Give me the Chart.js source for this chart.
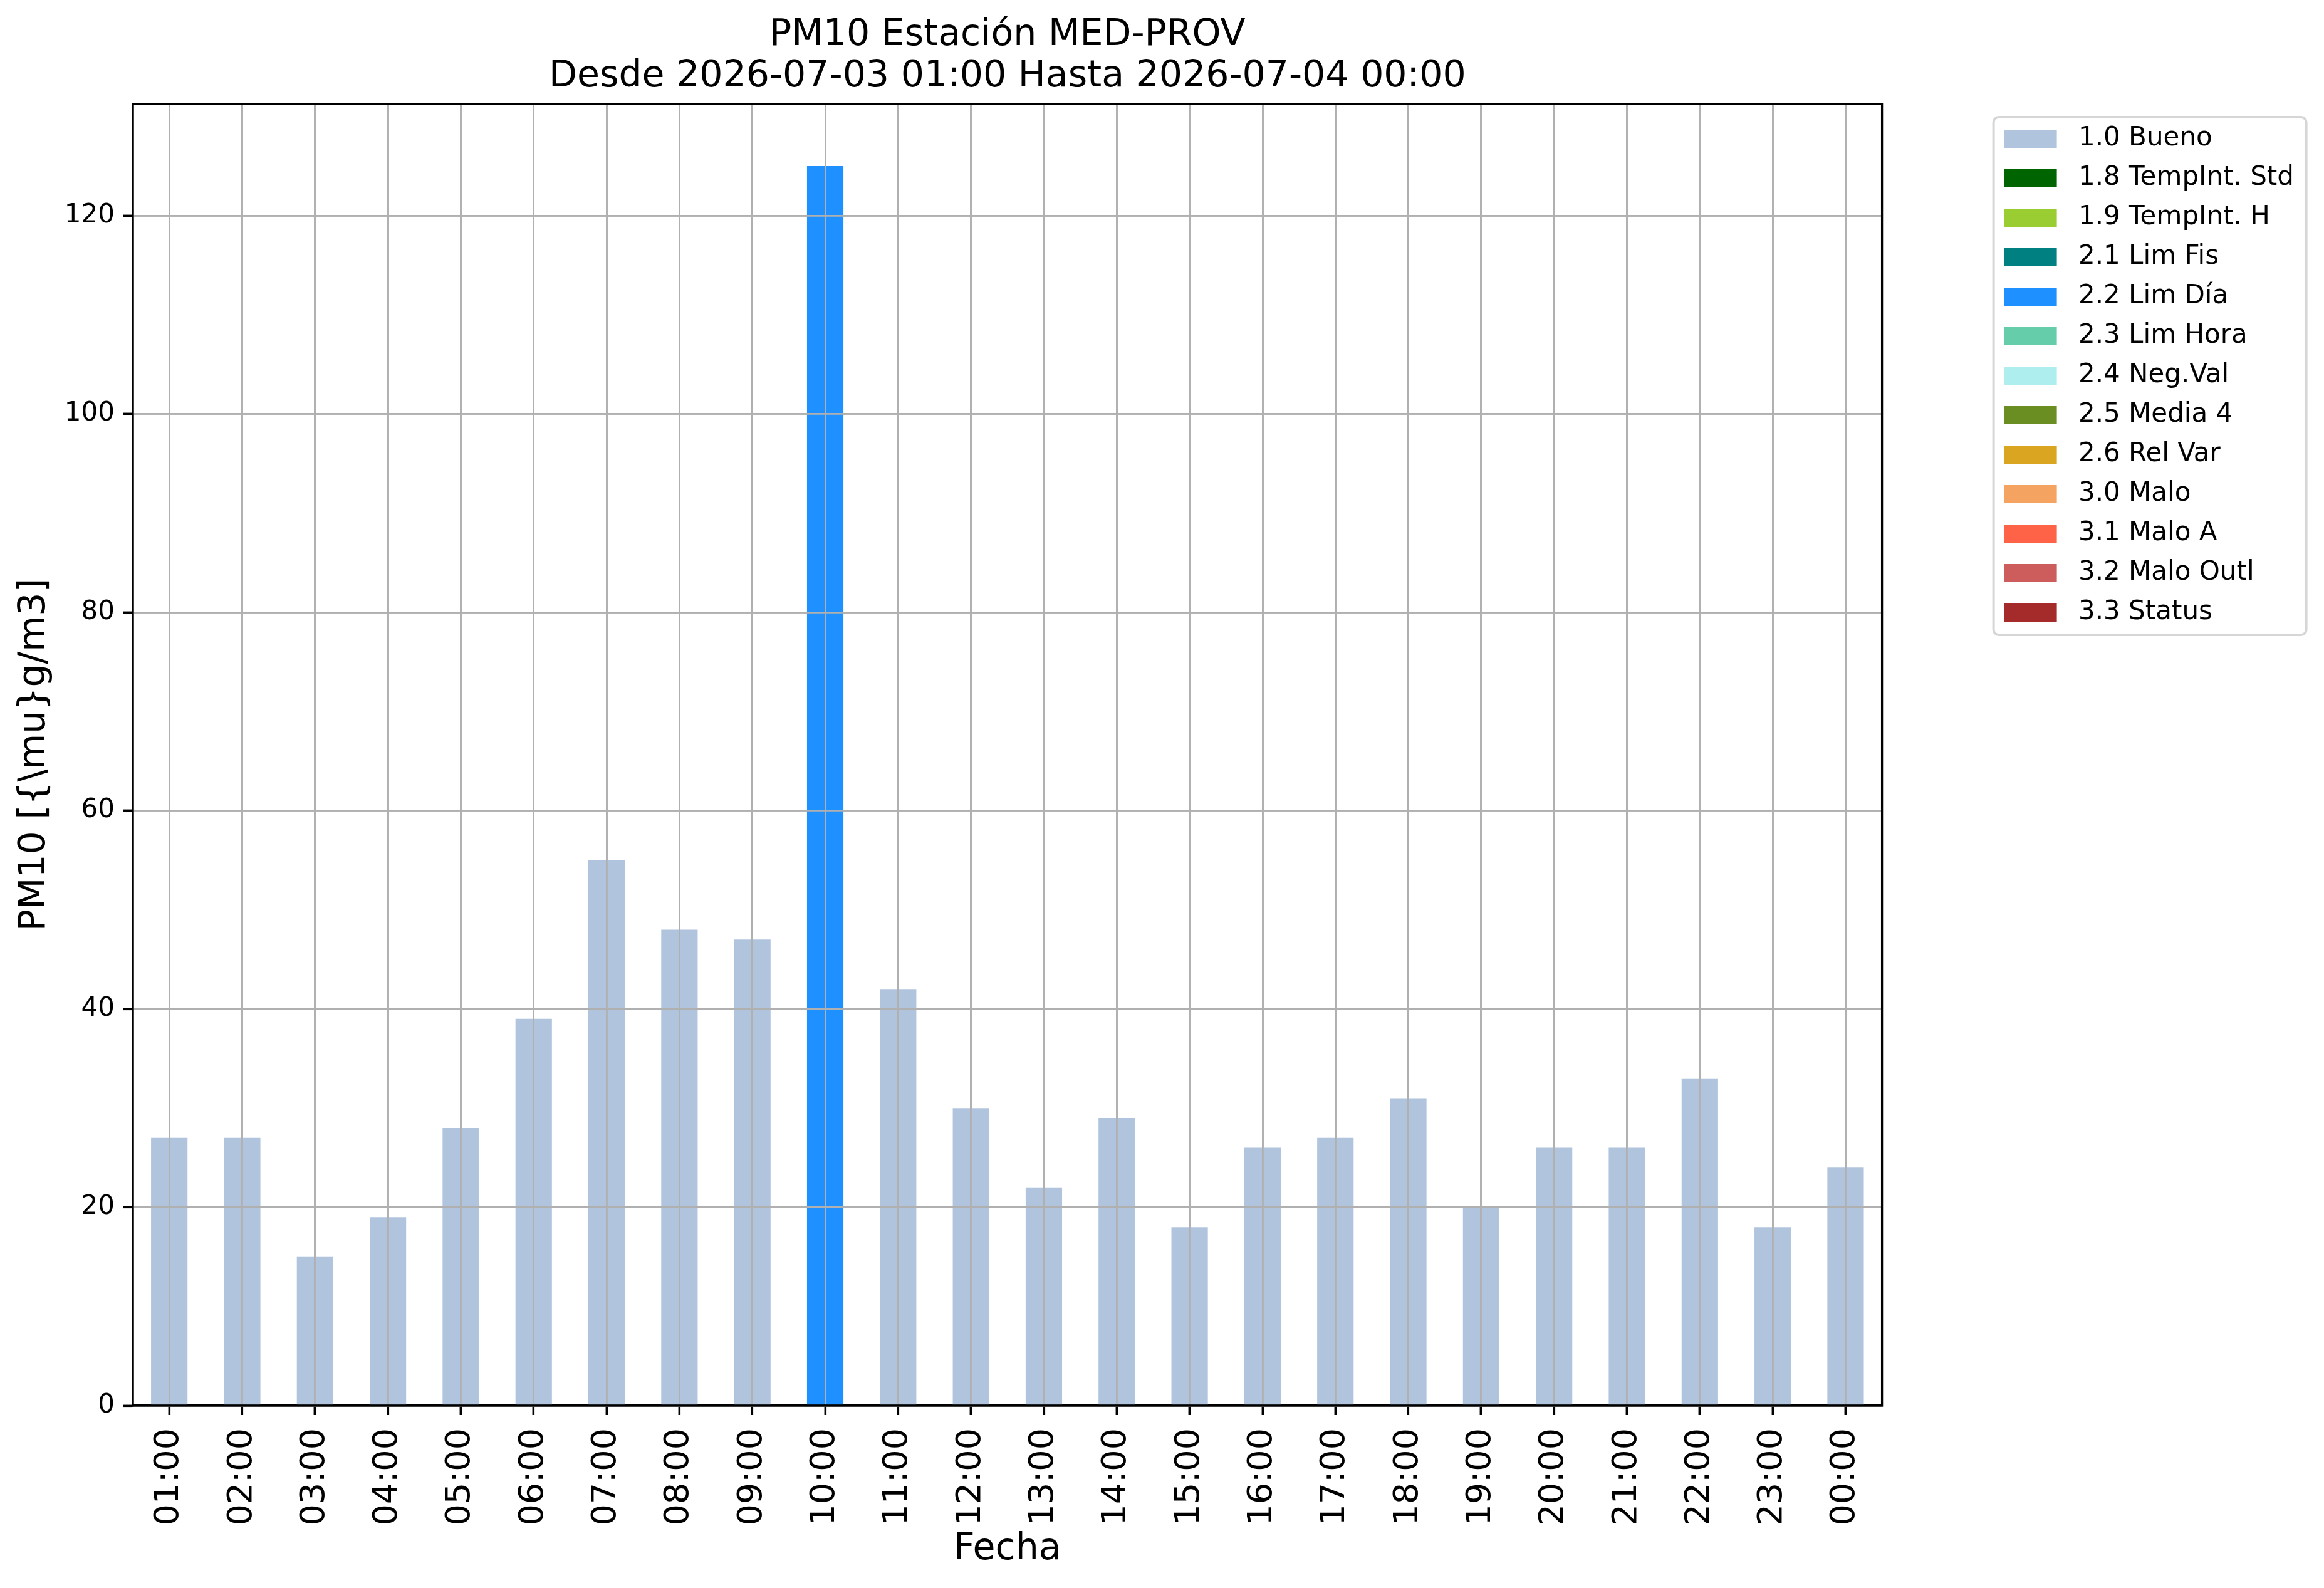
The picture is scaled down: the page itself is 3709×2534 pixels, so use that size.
<!DOCTYPE html>
<html><head><meta charset="utf-8">
<script src="https://cdn.jsdelivr.net/npm/chart.js@4.4.1/dist/chart.umd.min.js"></script>
<style>html,body{margin:0;padding:0;background:#fff;} #wrap{width:3709px;height:2534px;position:relative;}</style>
</head><body><div id="wrap"><canvas id="c" width="3709" height="2534"></canvas></div>
<script>
const hours = ['01:00','02:00','03:00','04:00','05:00','06:00','07:00','08:00','09:00','10:00','11:00','12:00',
               '13:00','14:00','15:00','16:00','17:00','18:00','19:00','20:00','21:00','22:00','23:00','00:00'];
const pm10 = [27,27,15,19,28,39,55,48,47,125,42,30,22,29,18,26,27,31,20,26,26,33,18,24];
const flags = ['1.0','1.0','1.0','1.0','1.0','1.0','1.0','1.0','1.0','2.2','1.0','1.0',
               '1.0','1.0','1.0','1.0','1.0','1.0','1.0','1.0','1.0','1.0','1.0','1.0'];
const flagCodes = ['1.0','1.8','1.9','2.1','2.2','2.3','2.4','2.5','2.6','3.0','3.1','3.2','3.3'];
const flagNames = ['1.0 Bueno','1.8 TempInt. Std','1.9 TempInt. H','2.1 Lim Fis','2.2 Lim Día','2.3 Lim Hora',
                   '2.4 Neg.Val','2.5 Media 4','2.6 Rel Var','3.0 Malo','3.1 Malo A','3.2 Malo Outl','3.3 Status'];
const flagColors = ['#B0C4DE','#006400','#9ACD32','#008080','#1E90FF','#66CDAA','#AFEEEE','#6B8E23',
                    '#DAA520','#F4A460','#FF6347','#CD5C5C','#A52A2A'];
const yTicks = [0,20,40,60,80,100,120];
const yMax = 131.25;
const titleLines = ['PM10 Estación MED-PROV','Desde 2026-07-03 01:00 Hasta 2026-07-04 00:00'];
const xTitle = 'Fecha';
const yTitle = 'PM10 [{\\mu}g/m3]';

const FONT = "'DejaVu Sans', sans-serif";
Chart.defaults.font.family = FONT;
Chart.defaults.color = '#000';

const datasets = flagCodes.map((code, k) => ({
  label: flagNames[k],
  data: pm10.map((v, i) => flags[i] === code ? v : null),
  backgroundColor: flagColors[k],
  borderWidth: 0,
  barPercentage: 0.5,
  categoryPercentage: 1.0
}));

const LG = {pad: 21, titleH: 13.5, font: 42, boxW: 84, boxH: 29};

const overlayPlugin = {
  id: 'overlay',
  beforeDraw(chart) {
    const lg = chart.legend;
    if (!lg) return;
    const ctx = chart.ctx;
    const itemX = lg.left + LG.pad;
    const boxTop0 = lg.top + LG.titleH + LG.pad + (LG.font - LG.boxH) / 2;
    const n = chart.data.datasets.length;
    const left = itemX - 17, top = boxTop0 - 20;
    const w = 499, h = (n - 1) * (LG.font + LG.pad) + LG.boxH + 41;
    ctx.save();
    ctx.beginPath();
    if (ctx.roundRect) ctx.roundRect(left, top, w, h, 8); else ctx.rect(left, top, w, h);
    ctx.fillStyle = 'rgba(255,255,255,0.8)';
    ctx.fill();
    ctx.lineWidth = 4;
    ctx.strokeStyle = '#d6d6d6';
    ctx.stroke();
    ctx.restore();
  },
  afterDatasetsDraw(chart) {
    const ca = chart.chartArea;
    chart.scales.x.drawGrid(ca);
    chart.scales.y.drawGrid(ca);
    const ctx = chart.ctx;
    ctx.save();
    ctx.lineWidth = 3.3;
    ctx.strokeStyle = '#000';
    ctx.strokeRect(ca.left, ca.top, ca.right - ca.left, ca.bottom - ca.top);
    ctx.restore();
  }
};

new Chart(document.getElementById('c'), {
  type: 'bar',
  data: {labels: hours, datasets},
  plugins: [overlayPlugin],
  options: {
    responsive: false,
    devicePixelRatio: 1,
    animation: false,
    layout: {padding: {left: 0, right: 38, top: 0, bottom: 0}},
    plugins: {
      tooltip: {enabled: false},
      title: {
        display: true, text: titleLines, fullSize: false,
        color: '#000',
        font: {family: FONT, size: 58.5, weight: 'normal', lineHeight: 66/58.5},
        padding: {top: 24, bottom: 10}
      },
      legend: {
        display: true, position: 'right', align: 'start', fullSize: false,
        title: {display: true, text: ' ', font: {size: 10, lineHeight: 1}, padding: {top: 0, bottom: LG.titleH - 10}},
        labels: {
          boxWidth: LG.boxW, boxHeight: LG.boxH, padding: LG.pad, color: '#000',
          font: {family: FONT, size: LG.font},
          generateLabels(chart) {
            return Chart.defaults.plugins.legend.labels.generateLabels(chart).map(it => Object.assign(it, {text: ' ' + it.text}));
          }
        }
      }
    },
    scales: {
      x: {
        stacked: true,
        offset: true,
        grid: {display: true, offset: false, color: '#b0b0b0', lineWidth: 2.8, drawTicks: true, tickLength: 15, tickColor: '#000', tickWidth: 3.3},
        border: {display: true, color: '#000', width: 3.3},
        ticks: {autoSkip: false, minRotation: 90, maxRotation: 90, padding: 21, color: '#000', font: {family: FONT, size: 54}},
        title: {display: true, text: xTitle, color: '#000', font: {family: FONT, size: 58.5}, padding: {top: 0, bottom: 26.6}},
        afterFit(s) { s.height = 291; }
      },
      y: {
        stacked: true,
        min: 0, max: yMax,
        grid: {display: true, color: '#b0b0b0', lineWidth: 2.8, drawTicks: true, tickLength: 15, tickColor: '#000', tickWidth: 3.3},
        border: {display: true, color: '#000', width: 3.3},
        ticks: {padding: 14, color: '#000', font: {family: FONT, size: 42}, includeBounds: false},
        afterBuildTicks(s) { s.ticks = yTicks.map(v => ({value: v})); },
        title: {display: true, text: yTitle, color: '#000', font: {family: FONT, size: 58.5}, padding: {top: 20.6, bottom: 0}},
        afterFit(s) { s.width = 212; }
      },
      y2: {
        position: 'right', display: true,
        grid: {display: false, drawTicks: false},
        border: {display: false},
        ticks: {display: false},
        afterFit(s) { s.width = 174; }
      }
    }
  }
});
</script>
</body></html>
